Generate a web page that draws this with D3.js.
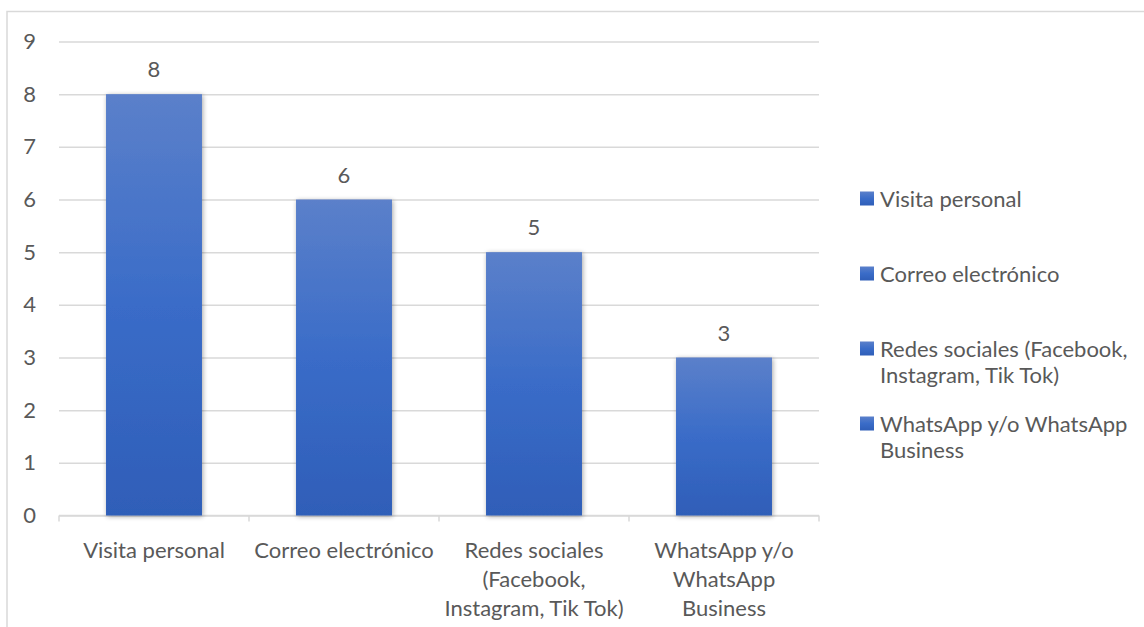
<!DOCTYPE html>
<html>
<head>
<meta charset="utf-8">
<script src="https://cdn.jsdelivr.net/npm/d3@7"></script>
<style>
  body { margin: 0; background: #fff; }
  .chart text { font-family: Lato, "Noto Sans", sans-serif; fill: #595959; }
</style>
</head>
<body>
<svg class="chart"></svg>
<script>
// DATA /////////////////////////////////////////
const categories = [
  "Visita personal",
  "Correo electrónico",
  "Redes sociales (Facebook, Instagram, Tik Tok)",
  "WhatsApp y/o WhatsApp Business",
];
const values = [8, 6, 5, 3];
const yTicks = [0, 1, 2, 3, 4, 5, 6, 7, 8, 9];
const xLabelLines = [
  ["Visita personal"],
  ["Correo electrónico"],
  ["Redes sociales", "(Facebook,", "Instagram, Tik Tok)"],
  ["WhatsApp y/o", "WhatsApp", "Business"],
];
const legendLines = [
  ["Visita personal"],
  ["Correo electrónico"],
  ["Redes sociales (Facebook,", "Instagram, Tik Tok)"],
  ["WhatsApp y/o WhatsApp", "Business"],
];

// DEFINITIONS /////////////////////////////////
const W = 1144, H = 627;
const margin = { top: 41.5, left: 59 };
const width = 760;
const height = 474;
const fontSize = 22;

const svg = d3.select(".chart").attr("width", W).attr("height", H);

const defs = svg.append("defs");
const grad = defs.append("linearGradient")
  .attr("id", "barGrad").attr("x1", 0).attr("y1", 0).attr("x2", 0).attr("y2", 1);
grad.append("stop").attr("offset", "0%").attr("stop-color", "#5b80ca");
grad.append("stop").attr("offset", "50%").attr("stop-color", "#3a6cc8");
grad.append("stop").attr("offset", "100%").attr("stop-color", "#2f5eb8");

const shadow = defs.append("filter").attr("id", "shadow")
  .attr("x", "-20%").attr("y", "-5%").attr("width", "140%").attr("height", "110%");
shadow.append("feGaussianBlur").attr("in", "SourceAlpha").attr("stdDeviation", 2.5);
shadow.append("feOffset").attr("dx", 1).attr("dy", 1).attr("result", "off");
shadow.append("feComponentTransfer").append("feFuncA").attr("type", "linear").attr("slope", 0.35);
const merge = shadow.append("feMerge");
merge.append("feMergeNode");
merge.append("feMergeNode").attr("in", "SourceGraphic");

// chart border
svg.append("rect")
  .attr("x", 7).attr("y", 11.5)
  .attr("width", W + 20).attr("height", H + 20)
  .attr("fill", "none").attr("stroke", "#d9d9d9").attr("stroke-width", 1.5);

const chartG = svg.append("g")
  .attr("transform", `translate(${margin.left}, ${margin.top})`);

// SCALES ///////////////////////////////////////
const x = d3.scaleBand().domain(categories).range([0, width]).paddingInner(0.495).paddingOuter(0.2475);
const y = d3.scaleLinear().domain([0, 9]).range([height, 0]);

// gridlines + y labels
const yAxis = d3.axisLeft(y).tickValues(yTicks).tickSize(-width).tickPadding(23).tickFormat(d3.format("d"));
chartG.append("g").call(yAxis)
  .call((g) => g.select(".domain").remove())
  .call((g) => g.selectAll("line").attr("stroke", "#d9d9d9").attr("stroke-width", 1.5))
  .call((g) => g.selectAll("text").attr("font-size", fontSize).attr("fill", "#595959"));

// x axis line with ticks at category boundaries
const xAxisG = chartG.append("g").attr("transform", `translate(0, ${height})`);
xAxisG.append("line").attr("x1", 0).attr("x2", width)
  .attr("stroke", "#d9d9d9").attr("stroke-width", 1.5);
const bounds = [0, ...categories.map((c) => x(c) - x.step() * x.paddingInner() / 2 + x.step())];
xAxisG.selectAll(".tk").data(bounds).join("line")
  .attr("x1", (d) => d).attr("x2", (d) => d).attr("y1", 0).attr("y2", 6)
  .attr("stroke", "#d9d9d9").attr("stroke-width", 1.5);

// bars
chartG.selectAll(".bar").data(values).join("rect")
  .attr("class", "bar")
  .attr("x", (d, i) => x(categories[i]))
  .attr("y", (d) => y(d))
  .attr("width", x.bandwidth())
  .attr("height", (d) => height - y(d))
  .attr("fill", "url(#barGrad)")
  .attr("filter", "url(#shadow)");

// value labels
chartG.selectAll(".val").data(values).join("text")
  .attr("class", "val")
  .attr("x", (d, i) => x(categories[i]) + x.bandwidth() / 2)
  .attr("y", (d) => y(d) - 17)
  .attr("text-anchor", "middle")
  .attr("font-size", fontSize)
  .text((d) => d);

// category labels
const lineH = 29;
chartG.selectAll(".xl").data(xLabelLines).join("text")
  .attr("class", "xl")
  .attr("text-anchor", "middle")
  .attr("font-size", fontSize)
  .attr("transform", (d, i) => `translate(${x(categories[i]) + x.bandwidth() / 2}, ${height + 42})`)
  .selectAll("tspan").data((d) => d).join("tspan")
  .attr("x", 0).attr("y", (d, j) => j * lineH)
  .text((d) => d);

// LEGEND ///////////////////////////////////////
const legendY = d3.scalePoint().domain(categories).range([199, 424]);
const legG = svg.append("g").selectAll("g").data(categories).join("g")
  .attr("transform", (d) => `translate(860, ${legendY(d)})`);
legG.append("rect").attr("x", 0).attr("y", -7.5).attr("width", 14).attr("height", 14)
  .attr("fill", "url(#barGrad)");
legG.append("text")
  .attr("font-size", fontSize)
  .selectAll("tspan").data((d, i) => legendLines[i]).join("tspan")
  .attr("x", 20).attr("y", (d, j) => j * 26.5).attr("dy", "0.35em")
  .text((d) => d);
</script>
</body>
</html>
